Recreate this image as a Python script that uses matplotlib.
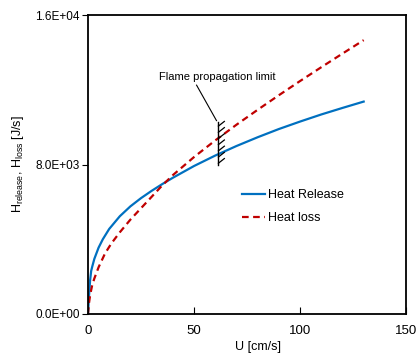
import matplotlib
matplotlib.use("Agg")
import matplotlib.pyplot as plt
from matplotlib.ticker import FixedLocator, FuncFormatter

plt.rcParams['font.family'] = ['Liberation Sans', 'DejaVu Sans']
plt.rcParams['mathtext.default'] = 'regular'

# Heat release curve (blue)
u_release = [0, 0.5, 1, 1.5, 2, 3, 5, 7, 10, 15, 20, 25, 30, 35, 40, 50,
             60, 70, 80, 90, 100, 110, 120, 130]
h_release = [0, 1000, 1800, 2300, 2530, 2950, 3550, 4000, 4550, 5230, 5760,
             6200, 6590, 6950, 7290, 7920, 8480, 8990, 9460, 9900, 10300,
             10680, 11030, 11370]

# Heat loss curve (red dashed)
u_loss = [0, 0.5, 1, 2, 3, 5, 8, 11, 15, 20, 25, 30, 35, 40, 50, 60, 70,
          80, 90, 100, 110, 120, 130]
h_loss = [0, 600, 1000, 1550, 1900, 2500, 3230, 3770, 4370, 5050, 5660,
          6270, 6880, 7430, 8400, 9290, 10130, 10930, 11710, 12470, 13210,
          13940, 14660]

# flame propagation limit marker
limit_u = 61.5
limit_range = [7970, 10290]

fig = plt.figure(figsize=(4.18, 3.6), dpi=100)
ax = fig.add_axes([0.2105, 0.128, 0.761, 0.830])

ax.plot(u_release, h_release, color='#0070C0', lw=1.6, label='Heat Release')
ax.plot(u_loss, h_loss, color='#C00000', lw=1.6, ls=(0, (3, 2)), label='Heat loss')

# hatched limit line
ax.plot([limit_u, limit_u], limit_range, color='black', lw=1.0)
n_hatch = 7
step = (limit_range[1] - limit_range[0]) / n_hatch
for i in range(n_hatch):
    y0 = limit_range[0] + step * (i + 0.3)
    ax.plot([limit_u, limit_u + 2.8], [y0, y0 + 250], color='black', lw=0.9)

# label and leader line
ax.text(61, 12680, 'Flame propagation limit', ha='center', va='center', fontsize=8)
ax.plot([51.2, 60.6], [12250, 10350], color='black', lw=0.8)

ax.set_xlim(0, 150)
ax.set_ylim(0, 16000)
ax.xaxis.set_major_locator(FixedLocator([0, 50, 100, 150]))
ax.yaxis.set_major_locator(FixedLocator([0, 8000, 16000]))
ax.yaxis.set_major_formatter(FuncFormatter(lambda v, p: f"{v:.1E}"))
ax.tick_params(axis='x', direction='in', length=5, labelsize=9.5, pad=8, width=0.8)
ax.tick_params(axis='y', direction='out', length=4, labelsize=8.5, pad=2, width=0.8)
for s in ax.spines.values():
    s.set_linewidth(1.3)

ax.set_xlabel('U [cm/s]', fontsize=9)
ax.xaxis.set_label_coords(0.535, -0.09)
ax.set_ylabel(r'H$_{release}$, H$_{loss}$ [J/s]', fontsize=9)
ax.yaxis.set_label_coords(-0.195, 0.5)

ax.legend(loc='upper left', bbox_to_anchor=(0.45, 0.456), frameon=False,
          fontsize=9, handlelength=1.8, handletextpad=0.25, labelspacing=0.9)

fig.savefig('out.png', dpi=100)
